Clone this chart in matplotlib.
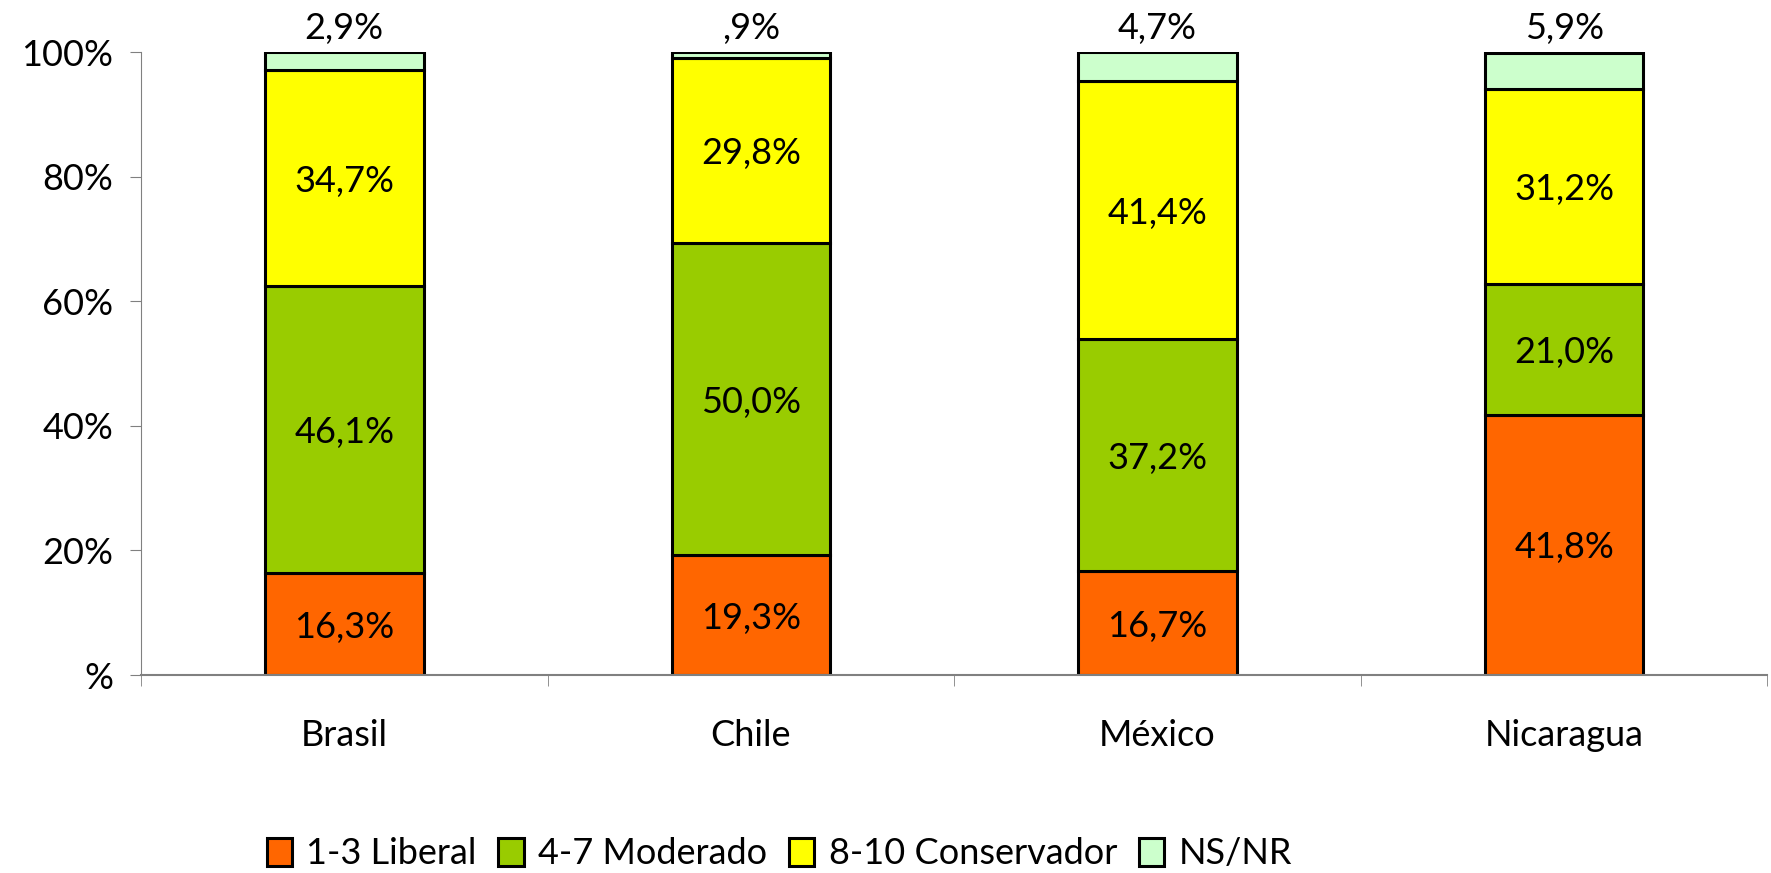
import numpy as np
import matplotlib.pyplot as plt

plt.rcParams['font.family'] = ['Lato', 'DejaVu Sans']

paises = ['Brasil', 'Chile', 'México', 'Nicaragua']
series = ['1-3 Liberal', '4-7 Moderado', '8-10 Conservador', 'NS/NR']
liberal = [16.3, 19.3, 16.7, 41.8]
moderado = [46.1, 50.0, 37.2, 21.0]
conservador = [34.7, 29.8, 41.4, 31.2]
nsnr = [2.9, 0.9, 4.7, 5.9]
colores = ['#FF6600', '#99CC00', '#FFFF00', '#CCFFCC']

fig = plt.figure(figsize=(17.71, 8.73), dpi=100)
ax = fig.add_axes([0.0796, 0.2268, 0.9184, 0.7136])

x = np.arange(len(paises))
base = np.zeros(len(paises))
for vals, nombre, col in zip([liberal, moderado, conservador, nsnr], series, colores):
    vals = np.array(vals)
    ax.bar(x, vals, 0.39, bottom=base, color=col, edgecolor='black', linewidth=2.2, label=nombre)
    for xi, b, v in zip(x, base, vals):
        txt = ('%.1f%%' % v).replace('.', ',')
        if txt.startswith('0'):
            txt = txt[1:]
        if nombre == 'NS/NR':
            ax.text(xi, 101.2, txt, ha='center', va='bottom', fontsize=26)
        else:
            ax.text(xi, b + v / 2 - 0.5, txt, ha='center', va='center', fontsize=26)
    base = base + vals

ax.set_xlim(-0.5, 3.5)
ax.set_ylim(0, 100)
ax.set_yticks([0, 20, 40, 60, 80, 100])
ax.set_yticklabels(['%', '20%', '40%', '60%', '80%', '100%'], fontsize=26)
ax.set_xticks(x)
ax.set_xticklabels(paises, fontsize=26)
ax.set_xticks([-0.5, 0.5, 1.5, 2.5, 3.5], minor=True)
ax.tick_params(axis='x', which='major', length=0, pad=32)
ax.tick_params(axis='x', which='minor', length=8, direction='out', color='#808080')
ax.tick_params(axis='y', length=8, direction='out', color='#808080', pad=12)
for s in ['top', 'right']:
    ax.spines[s].set_visible(False)
ax.spines['left'].set_color('#808080')
ax.spines['bottom'].set_color('#808080')
ax.spines['bottom'].set_linewidth(1.5)

fig.legend(loc='center', bbox_to_anchor=(0.44, 0.022), ncol=4, frameon=False,
           fontsize=26, handlelength=0.7, handleheight=0.8, handletextpad=0.4,
           columnspacing=0.6)

plt.savefig('out.png')
